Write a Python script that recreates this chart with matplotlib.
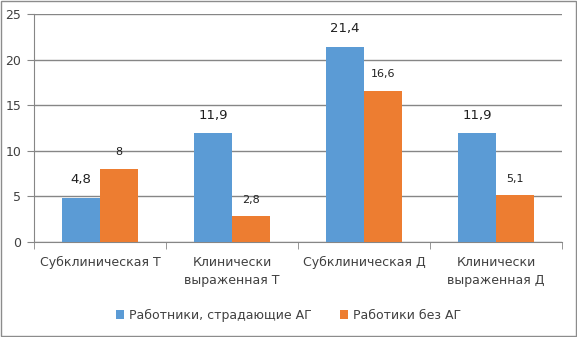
import matplotlib.pyplot as plt
import numpy as np

categories = ["Субклиническая Т", "Клинически\nвыраженная Т",
              "Субклиническая Д", "Клинически\nвыраженная Д"]
with_ag = [4.8, 11.9, 21.4, 11.9]
without_ag = [8, 2.8, 16.6, 5.1]
series_names = ["Работники, страдающие АГ", "Работики без АГ"]

blue = "#5B9BD5"
orange = "#ED7D31"
grid_c = "#868686"
text_c = "#404040"

plt.rcParams['font.family'] = ['DejaVu Sans']

fig = plt.figure(figsize=(5.77, 3.37), dpi=100)
ax = fig.add_axes([34/577, 1 - 242/337, (562 - 34)/577, (242 - 14)/337])

x = np.arange(len(categories))
w = 0.285
b1 = ax.bar(x - w/2, with_ag, w, color=blue, label=series_names[0], zorder=3)
b2 = ax.bar(x + w/2, without_ag, w, color=orange, label=series_names[1], zorder=3)

def fmt(v):
    return f"{v:g}".replace(".", ",")

for rect, v in zip(b1, with_ag):
    ax.text(rect.get_x() + rect.get_width()/2, v + 1.3, fmt(v),
            ha="center", va="bottom", fontsize=9.5, color="#202020")
for rect, v in zip(b2, without_ag):
    ax.text(rect.get_x() + rect.get_width()/2, v + 1.3, fmt(v),
            ha="center", va="bottom", fontsize=8, color="#202020")

ax.set_xlim(-0.5, 3.5)
ax.set_ylim(0, 25)
ax.set_yticks([0, 5, 10, 15, 20, 25])
ax.grid(axis="y", color=grid_c, linewidth=1, zorder=0)
ax.set_axisbelow(True)

for s in ["top", "right"]:
    ax.spines[s].set_visible(False)
ax.spines["left"].set_color(grid_c)
ax.spines["bottom"].set_color(grid_c)

ax.tick_params(axis="y", length=5, color=grid_c, labelcolor=text_c, labelsize=9, pad=4)
# category labels at group centres, tick marks between groups
ax.set_xticks(x)
ax.set_xticklabels(categories, fontsize=9, color=text_c, linespacing=1.5)
ax.tick_params(axis="x", length=0, pad=10)
ax.set_xticks(np.arange(-0.5, 4, 1), minor=True)
ax.tick_params(axis="x", which="minor", length=5, color=grid_c)

fig.legend(handles=[b1, b2], labels=series_names, loc="center",
           bbox_to_anchor=(0.5, 1 - 315/337), ncol=2, frameon=False,
           fontsize=9, handlelength=0.7, handleheight=0.7,
           columnspacing=2.2, handletextpad=0.4, labelcolor=text_c)

fig.patches.append(plt.Rectangle((0.001, 0.002), 0.997, 0.995,
                                 transform=fig.transFigure, fill=False,
                                 edgecolor="#8C8C8C", linewidth=1.0))

fig.savefig("out.png", dpi=100)
